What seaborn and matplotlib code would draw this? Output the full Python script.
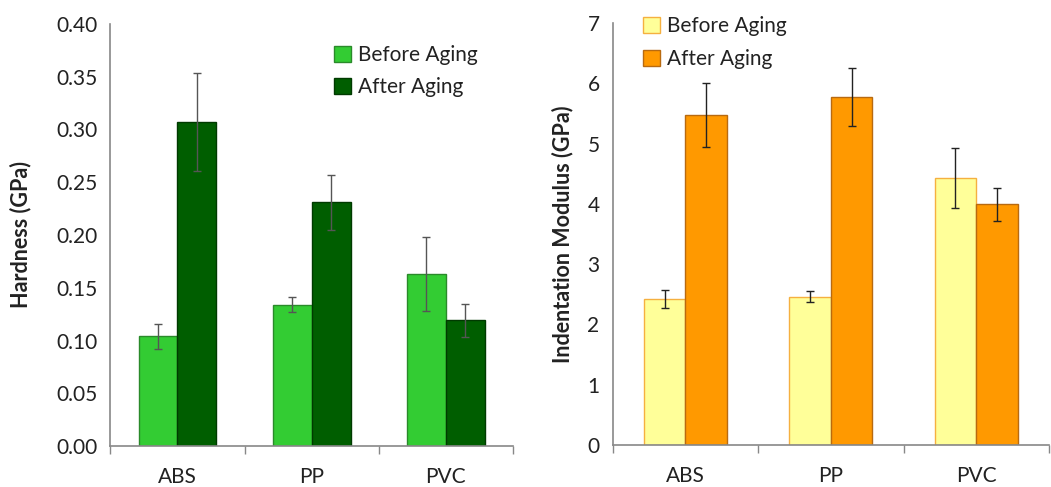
import numpy as np
import pandas as pd
import matplotlib
matplotlib.use("Agg")
import matplotlib.pyplot as plt
import seaborn as sns
from matplotlib.patches import Patch

materials = ["ABS", "PP", "PVC"]
conditions = ["Before Aging", "After Aging"]

hard_before = [0.104, 0.134, 0.163]
hard_before_err = [0.012, 0.007, 0.035]
hard_after = [0.307, 0.231, 0.119]
hard_after_err = [0.046, 0.026, 0.016]

mod_before = [2.42, 2.46, 4.43]
mod_before_err = [0.15, 0.09, 0.50]
mod_after = [5.47, 5.77, 3.99]
mod_after_err = [0.53, 0.48, 0.28]

sns.set_style("white")
plt.rcParams["font.family"] = ["Lato", "DejaVu Sans"]
plt.rcParams["text.color"] = "#222222"
plt.rcParams["axes.labelcolor"] = "#222222"
plt.rcParams["xtick.color"] = "#222222"
plt.rcParams["ytick.color"] = "#222222"

fig = plt.figure(figsize=(10.51, 4.87), dpi=100)
ax1 = fig.add_axes([0.105, 0.084, 0.383, 0.867])
ax2 = fig.add_axes([0.583, 0.086, 0.415, 0.867])


def draw(ax, before, before_err, after, after_err, fills, edges, ylim, yticks, fmt, ylabel,
         width, err_color, legend_loc, labelpad):
    df = pd.DataFrame({
        "material": materials * 2,
        "condition": [conditions[0]] * 3 + [conditions[1]] * 3,
        "value": before + after,
    })
    errs = before_err + after_err
    sns.barplot(data=df, x="material", y="value", hue="condition", order=materials,
                hue_order=conditions, palette=fills, width=width, errorbar=None,
                saturation=1, ax=ax, legend=False)
    bars = [p for p in ax.patches]
    for i, p in enumerate(bars):
        p.set_edgecolor(edges[i // 3])
        p.set_linewidth(1.0)
    xs = [p.get_x() + p.get_width() / 2 for p in bars]
    ys = [p.get_height() for p in bars]
    ax.errorbar(xs, ys, yerr=errs, fmt="none", ecolor=err_color, elinewidth=1.0,
                capsize=3, capthick=1.0, zorder=5)

    ax.set_xlim(-0.5, 2.5)
    ax.set_ylim(*ylim)
    ax.set_yticks(yticks)
    ax.set_yticklabels([fmt.format(t) for t in yticks])
    ax.set_xticks([0, 1, 2])
    ax.set_xticklabels(materials)
    ax.set_xticks([-0.5, 0.5, 1.5, 2.5], minor=True)
    ax.tick_params(axis="x", which="major", length=0, pad=15, labelsize=15)
    ax.tick_params(axis="x", which="minor", length=6, width=1, color="#888888", direction="out")
    ax.tick_params(axis="y", length=6, width=1, color="#888888", direction="out", labelsize=15)
    ax.xaxis.set_tick_params(which="minor", bottom=True)
    for s in ["top", "right"]:
        ax.spines[s].set_visible(False)
    for s in ["left", "bottom"]:
        ax.spines[s].set_color("#888888")
        ax.spines[s].set_linewidth(1.2)
    ax.set_xlabel("")
    ax.set_ylabel(ylabel, fontsize=15.5, fontweight="bold", labelpad=labelpad)

    handles = [Patch(facecolor=fills[i], edgecolor=edges[i], label=conditions[i]) for i in range(2)]
    ax.legend(handles=handles, loc=legend_loc[0], bbox_to_anchor=legend_loc[1], frameon=False,
              fontsize=15, handlelength=0.8, handleheight=0.8, handletextpad=0.35,
              labelspacing=0.6, borderaxespad=0)


draw(ax1, hard_before, hard_before_err, hard_after, hard_after_err,
     ["#33cc33", "#005e00"], ["#2a8a2a", "#003a00"],
     (0, 0.40), np.arange(0, 0.41, 0.05), "{:.2f}", "Hardness (GPa)",
     0.58, "#555555", ("upper left", (0.535, 0.97)), 18)

draw(ax2, mod_before, mod_before_err, mod_after, mod_after_err,
     ["#ffff99", "#ff9900"], ["#f5b040", "#b86a10"],
     (0, 7), np.arange(0, 8, 1), "{:.0f}", "Indentation Modulus (GPa)",
     0.57, "#222222", ("upper left", (0.05, 1.035)), 10)

fig.savefig("out.png", dpi=100)
